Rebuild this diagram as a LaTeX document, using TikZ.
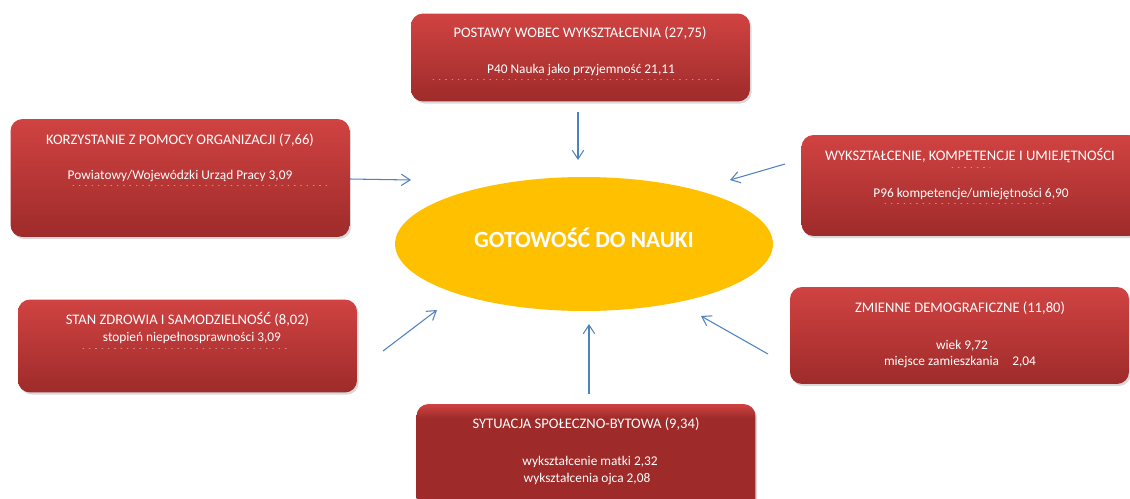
\documentclass[tikz,border=0pt]{standalone}
\usepackage{fontspec}
\setmainfont{Carlito}
\usetikzlibrary{arrows.meta,shadows,shapes.geometric}
\definecolor{boxtop}{RGB}{208,67,66}
\definecolor{boxbot}{RGB}{158,43,42}
\definecolor{goldfill}{RGB}{255,192,0}
\definecolor{arrowblue}{RGB}{79,129,189}
\newcommand{\pxu}{0.02cm}
\pgfdeclareverticalshading{sytshade}{100bp}{color(0bp)=(boxbot); color(69bp)=(boxbot); color(75bp)=(boxtop); color(100bp)=(boxtop)}
\begin{document}
\begin{tikzpicture}[x=\pxu, y=-\pxu, >={Straight Barb[length=5pt,width=6.5pt]},
		redbox/.style={rectangle, rounded corners=0.24cm, minimum width=6.78cm, inner sep=0pt,
			top color=boxtop, bottom color=boxbot, drop shadow={shadow xshift=1pt, shadow yshift=-1.2pt, opacity=0.3}},
		boxtitle/.style={anchor=base, text=white, inner sep=0pt, font=\fontsize{8.3}{10}\selectfont},
		boxsub/.style={anchor=base, text=white, inner sep=0pt, font=\fontsize{7.6}{9}\selectfont},
		dotline/.style={white, opacity=0.45, line width=0.5pt, dash pattern=on 0.4pt off 3.2pt, line cap=round},
		link/.style={->, arrowblue, line width=0.6pt}]
	
	\useasboundingbox (0,0) rectangle (1130,498);
	\clip (0,0) rectangle (1130,498);
	
	% --- 1. Centrum ---
	\node[ellipse, fill=goldfill, inner sep=0pt, minimum width=7.56cm, minimum height=2.68cm] (gotowosc) at (584,244) {};
	\node[anchor=base, text=white, font=\fontsize{13.2}{15}\selectfont\bfseries] (gotowosctxt) at (584,247) {GOTOWOŚĆ DO NAUKI};
	
	% --- 2. Czynniki (prostokaty) ---
	\node[redbox, minimum height=1.76cm] (postawy) at (580.5,57.5) {};
	\node[redbox, minimum height=2.36cm] (korzyst) at (180,178) {};
	\node[redbox, minimum height=2.02cm] (wyksz) at (971,185.5) {};
	\node[redbox, minimum height=1.86cm] (zdrowie) at (187.5,346) {};
	\node[redbox, minimum height=1.94cm] (demogr) at (959.5,335.5) {};
	\node[redbox, minimum height=2.32cm, shading=sytshade] (bytowa) at (586,462) {};
	
	% --- 3. Teksty ---
	% postawy
	\node[boxtitle] (postawyT) at (580,37.5) {POSTAWY WOBEC WYKSZTAŁCENIA (27,75)};
	\node[boxsub] (postawyS) at (581,73) {P40 Nauka jako przyjemność 21,11};
	\draw[dotline] (433,79) -- (720,79);
	% korzystanie z pomocy
	\node[boxtitle] (korzystT) at (180,144) {KORZYSTANIE Z POMOCY ORGANIZACJI (7,66)};
	\node[boxsub] (korzystS) at (180,179) {Powiatowy/Wojewódzki Urząd Pracy 3,09};
	\draw[dotline] (73,185) -- (327,185);
	% wyksztalcenie
	\node[boxtitle] (wykszT) at (970,160) {WYKSZTAŁCENIE, KOMPETENCJE I UMIEJĘTNOŚCI};
	\draw[dotline] (952,167) -- (990,167);
	\node[boxsub] (wykszS) at (971,197) {P96 kompetencje/umiejętności 6,90};
	\draw[dotline] (885,203) -- (1055,203);
	% zdrowie
	\node[boxtitle] (zdrowieT) at (187.5,324) {STAN ZDROWIA I SAMODZIELNOŚĆ (8,02)};
	\node[boxsub] (zdrowieS) at (192,341) {stopień niepełnosprawności 3,09};
	\draw[dotline] (83,348) -- (287,348);
	% demografia
	\node[boxtitle] (demogrT) at (960,312) {ZMIENNE DEMOGRAFICZNE (11,80)};
	\node[boxsub] (demogrS1) at (962,349) {wiek 9,72};
	\node[boxsub] (demogrS2) at (960,365) {miejsce zamieszkania\quad 2,04};
	% sytuacja bytowa
	\node[boxtitle] (bytowaT) at (586,428) {SYTUACJA SPOŁECZNO-BYTOWA (9,34)};
	\node[boxsub] (bytowaS1) at (590,465) {wykształcenie matki 2,32};
	\node[boxsub] (bytowaS2) at (587,482) {wykształcenia ojca 2,08};
	
	% --- 4. Strzalki ---
	\coordinate (p1) at (578,112);  \coordinate (g1) at (578,160);
	\coordinate (p2) at (350,179);  \coordinate (g2) at (411,180);
	\coordinate (p3) at (785,164);  \coordinate (g3) at (730,180);
	\coordinate (p4) at (383,351);  \coordinate (g4) at (437,310);
	\coordinate (p5) at (768,354);  \coordinate (g5) at (701,316);
	\coordinate (p6) at (589,394);  \coordinate (g6) at (589,324);
	\foreach \i in {1,...,6}
		\draw[link] (p\i) -- (g\i);
	
\end{tikzpicture}
\end{document}
